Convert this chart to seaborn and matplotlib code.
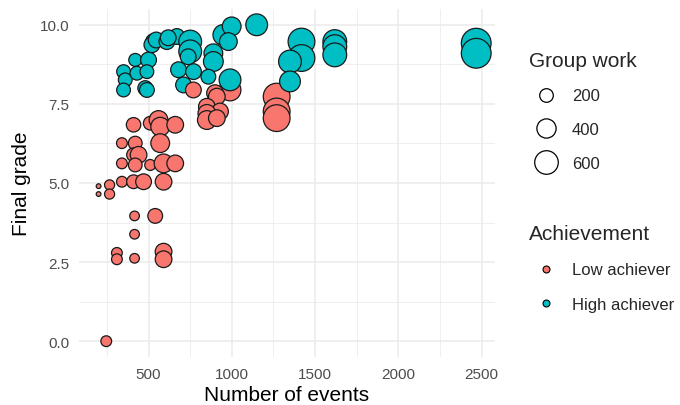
import matplotlib
matplotlib.use("Agg")
import matplotlib.pyplot as plt
from matplotlib.lines import Line2D
from matplotlib.ticker import MultipleLocator, FormatStrFormatter
import numpy as np
import pandas as pd
import seaborn as sns

# Student activity: number of logged events, final grade, group-work activity
events = [
    246, 200, 200, 266, 266, 340, 416, 540, 416, 310, 310, 416, 590, 590,
    410, 510, 560, 570, 660, 340, 420, 570, 410, 440, 340, 420, 510, 590,
    660, 410, 470, 590, 989, 899, 910, 850, 929, 850, 850, 910, 1269, 1269,
    1269,
    350, 360, 350, 420, 430, 500, 490, 480, 490, 530, 520, 546, 610, 670,
    618, 750, 750, 680, 770, 710, 738, 889, 889, 859, 989, 949, 999, 979,
    1149, 1418, 1418, 1349, 1349, 1618, 1618, 1618, 2467, 2467,
    769,
]
grade = [
    0.0, 4.9, 4.65, 4.94, 4.65, 5.04, 3.96, 3.96, 3.38, 2.79, 2.59, 2.62,
    2.83, 2.59, 6.84, 6.89, 6.99, 6.78, 6.84, 6.26, 6.26, 6.26, 5.89, 5.89,
    5.62, 5.57, 5.57, 5.62, 5.62, 5.04, 5.04, 5.04, 7.94, 7.84, 7.73, 7.41,
    7.26, 7.2, 6.99, 7.05, 7.73, 7.26, 7.05,
    8.52, 8.26, 7.94, 8.89, 8.47, 8.89, 8.52, 8.0, 7.94, 9.47, 9.37, 9.52,
    9.47, 9.63, 9.59, 9.47, 9.16, 8.58, 8.52, 8.1, 8.99, 9.1, 8.84, 8.36,
    8.26, 9.68, 9.95, 9.47, 10.0, 9.47, 8.95, 8.84, 8.21, 9.47, 9.31, 9.05,
    9.42, 9.1,
    7.94,
]
group_work = [
    125, 24, 24, 110, 110, 125, 100, 235, 100, 125, 125, 100, 300, 300,
    225, 200, 380, 380, 300, 125, 204, 380, 204, 300, 125, 204, 130, 380,
    300, 204, 268, 300, 511, 300, 300, 300, 300, 340, 380, 300, 773, 773,
    773,
    204, 204, 204, 180, 204, 268, 204, 235, 235, 268, 268, 268, 268, 268,
    268, 560, 560, 268, 268, 268, 268, 380, 421, 235, 511, 465, 380, 340,
    511, 773, 773, 560, 465, 609, 609, 609, 956, 956,
    268,
]
achievement = (["Low achiever"] * 43 + ["High achiever"] * 38
               + ["Low achiever"])

df = pd.DataFrame({
    "Number of events": events,
    "Final grade": grade,
    "Group work": group_work,
    "Achievement": achievement,
})

palette = {"Low achiever": "#F8766D", "High achiever": "#00BFC4"}
size_range = (0, 480)
size_norm = (0, 1000)

sns.set_theme(style="whitegrid")
plt.rcParams["font.family"] = ["Liberation Sans", "DejaVu Sans"]

fig = plt.figure(figsize=(6.8, 4.06), dpi=100)
ax = fig.add_axes([0.1162, 0.1182, 0.6118, 0.8572])

sns.scatterplot(
    data=df, x="Number of events", y="Final grade",
    hue="Achievement", size="Group work",
    palette=palette, sizes=size_range, size_norm=size_norm,
    edgecolor="#1a1a1a", linewidth=0.9, alpha=1.0, legend=False, ax=ax,
)

ax.set_xlim(82.5, 2580)
ax.set_ylim(-0.5, 10.5)
ax.xaxis.set_major_locator(MultipleLocator(500))
ax.xaxis.set_minor_locator(MultipleLocator(250))
ax.yaxis.set_major_locator(MultipleLocator(2.5))
ax.yaxis.set_minor_locator(MultipleLocator(1.25))
ax.yaxis.set_major_formatter(FormatStrFormatter("%.1f"))
ax.grid(True, which="major", color="#EBEBEB", linewidth=1.1)
ax.grid(True, which="minor", color="#EBEBEB", linewidth=0.55)
ax.set_axisbelow(True)
for s in ax.spines.values():
    s.set_visible(False)
ax.tick_params(axis="both", which="both", length=0, labelsize=11,
               labelcolor="#4D4D4D")
ax.tick_params(axis="x", pad=7)
ax.tick_params(axis="y", pad=7)
ax.set_xlabel("Number of events", fontsize=15, color="black", labelpad=3)
ax.set_ylabel("Final grade", fontsize=15, color="black", labelpad=6)

# Size legend
size_vals = [200, 400, 600]
size_handles = [
    Line2D([], [], linestyle="", marker="o", markerfacecolor="white",
           markeredgecolor="black", markeredgewidth=0.9,
           markersize=np.sqrt(size_range[1] * v / size_norm[1]))
    for v in size_vals
]
fig.legend(size_handles, [str(v) for v in size_vals],
           title="Group work", loc="upper left",
           bbox_to_anchor=(0.766, 0.893), frameon=False,
           fontsize=12, title_fontsize=15, alignment="left",
           borderpad=0, labelspacing=1.12, handletextpad=0.6,
           handlelength=1.96)

# Colour legend
hue_handles = [
    Line2D([], [], linestyle="", marker="o", markerfacecolor=palette[k],
           markeredgecolor="black", markeredgewidth=0.8, markersize=5)
    for k in palette
]
fig.legend(hue_handles, list(palette), title="Achievement",
           loc="upper left", bbox_to_anchor=(0.766, 0.467),
           frameon=False, fontsize=12, title_fontsize=15,
           alignment="left", borderpad=0, labelspacing=1.18,
           handletextpad=0.6, handlelength=1.96)

fig.savefig("out.png", dpi=100, facecolor="white")
